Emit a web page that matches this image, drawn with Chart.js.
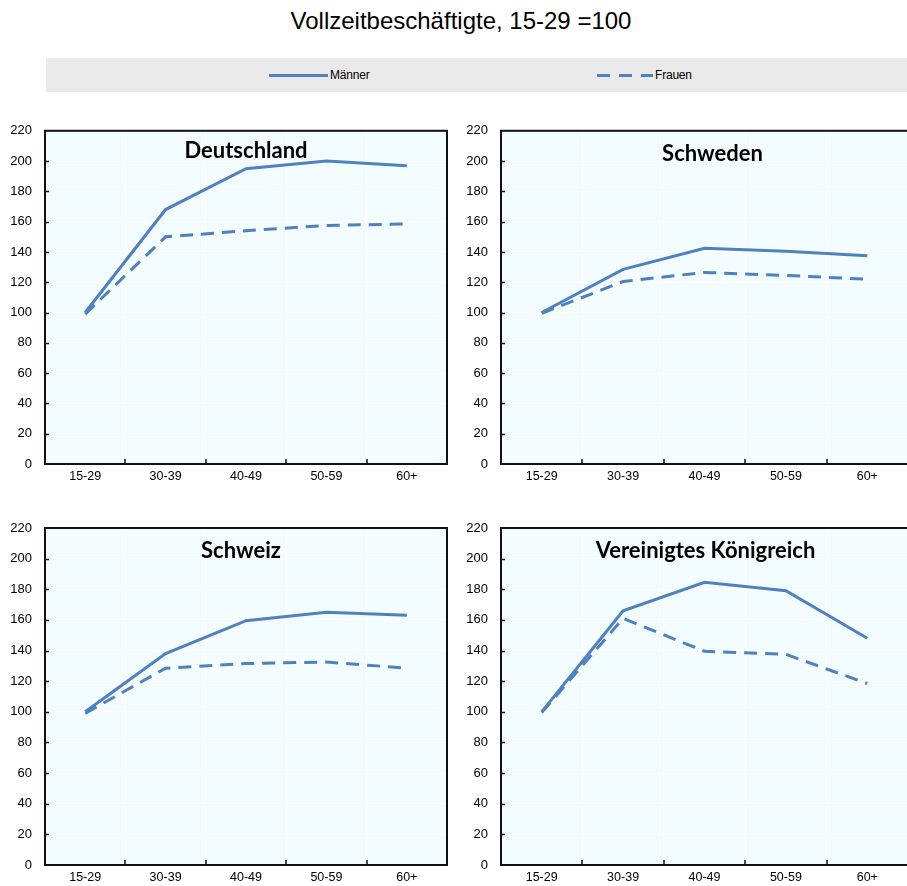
<!DOCTYPE html>
<html>
<head>
<meta charset="utf-8">
<script src="https://cdn.jsdelivr.net/npm/chart.js@4/dist/chart.umd.min.js"></script>
<style>
  html, body { margin:0; padding:0; background:#fff; width:907px; height:886px; overflow:hidden; }
  #title { position:absolute; left:0; width:922px; top:7px; text-align:center; font-family:"Liberation Sans", Arial, sans-serif; font-size:24px; color:#000; }
  #legend { position:absolute; left:46px; top:58px; width:861px; height:34px; background:#EAEAEA; }
  .leg { position:absolute; top:0; height:34px; font-family:"Liberation Sans", Arial, sans-serif; font-size:12px; color:#000; line-height:34px; letter-spacing:-0.2px; }
  canvas { position:absolute; }
</style>
</head>
<body>
<div id="title">Vollzeitbeschäftigte, 15-29 =100</div>
<div id="legend">
  <svg style="position:absolute;left:0;top:0" width="861" height="34">
    <line x1="223" y1="17.5" x2="282" y2="17.5" stroke="#4F81BD" stroke-width="3"/>
    <line x1="551" y1="17.5" x2="607" y2="17.5" stroke="#4F81BD" stroke-width="3" stroke-dasharray="13,9"/>
  </svg>
  <div class="leg" style="left:284px">Männer</div>
  <div class="leg" style="left:609px">Frauen</div>
</div>
<canvas id="c1" width="455" height="380" style="left:0px;top:110px"></canvas>
<canvas id="c2" width="456" height="380" style="left:455px;top:110px"></canvas>
<canvas id="c3" width="455" height="386" style="left:0px;top:500px"></canvas>
<canvas id="c4" width="456" height="386" style="left:455px;top:500px"></canvas>
<script>
const categories = ["15-29", "30-39", "40-49", "50-59", "60+"];
const seriesNames = ["Männer", "Frauen"];
const countries = ["Deutschland", "Schweden", "Schweiz", "Vereinigtes Königreich"];
const yTicks = [0, 20, 40, 60, 80, 100, 120, 140, 160, 180, 200, 220];

const deutschlandMaenner = [100, 168, 195, 200, 197];
const deutschlandFrauen  = [99, 150, 154, 157.5, 158.5];
const schwedenMaenner    = [100, 128.5, 142.5, 140.5, 137.5];
const schwedenFrauen     = [99.5, 120.5, 126.5, 124.5, 122];
const schweizMaenner     = [100, 138, 159.5, 165, 163];
const schweizFrauen      = [99, 128.5, 131.5, 132.5, 128.5];
const vkMaenner          = [100, 166, 184.5, 179, 148];
const vkFrauen           = [99.5, 161, 139.5, 137.5, 118.5];

const LINE = "#4F81BD";
const BG = "#F3FDFF";
const FONT = "'Liberation Sans', Arial, sans-serif";

const panelPlugin = {
  id: "panel",
  beforeDraw(chart) {
    const a = chart.chartArea, ctx = chart.ctx;
    ctx.save();
    ctx.fillStyle = BG;
    ctx.fillRect(a.left, a.top, a.right - a.left, a.bottom - a.top);
    ctx.restore();
  },
  afterDraw(chart, args, opts) {
    const a = chart.chartArea, ctx = chart.ctx;
    const xs = chart.scales.x, ys = chart.scales.y;
    ctx.save();
    ctx.strokeStyle = "#111";
    ctx.lineWidth = 2;
    ctx.strokeRect(a.left, a.top, a.right - a.left, a.bottom - a.top);
    ctx.lineWidth = 1.5;
    ctx.beginPath();
    ys.ticks.forEach(t => {
      if (t.value <= 0 || t.value >= 220) return;
      const y = Math.round(ys.getPixelForValue(t.value)) + 0.5;
      ctx.moveTo(a.left, y); ctx.lineTo(a.left + 4, y);
    });
    for (let i = 1; i < categories.length; i++) {
      const x = Math.round((xs.getPixelForValue(i - 1) + xs.getPixelForValue(i)) / 2);
      ctx.moveTo(x, a.bottom); ctx.lineTo(x, a.bottom - 5);
    }
    ctx.stroke();
    ctx.fillStyle = "#000";
    ctx.font = "bold 22px Lato, 'Open Sans', sans-serif";
    ctx.textAlign = "center";
    ctx.textBaseline = "middle";
    ctx.fillText(opts.title, (a.left + a.right) / 2 + (opts.dx || 0), a.top + opts.dy);
    ctx.restore();
  }
};

function makeChart(id, title, m, f, padTop, padRight, xH, dy, dx) {
  return new Chart(document.getElementById(id), {
    type: "line",
    data: {
      labels: categories,
      datasets: [
        { label: seriesNames[0], data: m, borderColor: LINE, borderWidth: 3, pointRadius: 0, tension: 0, fill: false },
        { label: seriesNames[1], data: f, borderColor: LINE, borderWidth: 3, borderDash: [13, 8], pointRadius: 0, tension: 0, fill: false }
      ]
    },
    options: {
      responsive: false,
      animation: false,
      events: [],
      layout: { padding: { top: padTop, right: padRight, left: 0, bottom: 0 } },
      plugins: {
        legend: { display: false },
        tooltip: { enabled: false },
        title: { display: false },
        panel: { title: title, dy: dy, dx: dx }
      },
      scales: {
        x: {
          offset: true,
          grid: { offset: true, color: "#FFFFFF", lineWidth: 1, drawTicks: false },
          border: { display: false },
          ticks: { color: "#000", font: { family: FONT, size: 12.5 }, padding: 5, maxRotation: 0, autoSkip: false },
          afterFit(s) { s.height = xH; }
        },
        y: {
          min: 0, max: 220,
          afterBuildTicks(s) { s.ticks = yTicks.map(v => ({ value: v })); },
          grid: { color: "#FFFFFF", lineWidth: 1, drawTicks: false },
          border: { display: false },
          ticks: { color: "#000", font: { family: FONT, size: 13 }, padding: 13 },
          afterFit(s) { s.width = (id === "c1" || id === "c3") ? 45 : 46; }
        }
      }
    },
    plugins: [panelPlugin]
  });
}

makeChart("c1", countries[0], deutschlandMaenner, deutschlandFrauen, 17, 8, 26, 20, 0);
makeChart("c2", countries[1], schwedenMaenner, schwedenFrauen, 17, 3, 26, 23, 8);
makeChart("c3", countries[2], schweizMaenner, schweizFrauen, 28, 8, 21, 23, -5);
makeChart("c4", countries[3], vkMaenner, vkFrauen, 28, 3, 21, 23, 1);
</script>
</body>
</html>
